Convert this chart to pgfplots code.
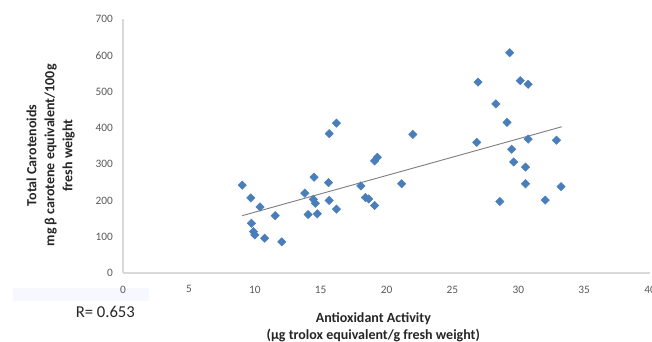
\documentclass[border=0pt]{standalone}
\usepackage{fontspec}
\setmainfont{Carlito}
\usepackage{pgfplots}
\pgfplotsset{compat=1.18}
\definecolor{mk}{HTML}{4A7EBB}
\definecolor{tk}{HTML}{595959}
\definecolor{ax}{HTML}{D9D9D9}
\begin{document}
\begin{tikzpicture}
\path[use as bounding box] (0,0) rectangle (489pt,256.5pt);
\begin{axis}[
  at={(92.25pt,51.75pt)}, anchor=south west,
  scale only axis, width=395.25pt, height=190.5pt,
  xmin=0, xmax=40, ymin=0, ymax=700,
  xtick={0,5,...,40}, ytick={0,100,...,700},
  xticklabels={0,5,10,15,20,25,30,35,40},
  axis x line=bottom, axis y line=left,
  axis line style={ax, line width=0.9pt, -},
  major tick length=0pt,
  tick label style={font=\fontsize{8.5}{10}\selectfont, text=tk},
  /pgf/number format/assume math mode=true,
  yticklabel style={xshift=-4pt},
  xticklabel style={yshift=-6pt},
  clip=false,
]
\addplot[color={rgb,255:red,128;green,128;blue,128}, line width=0.7pt] coordinates {(9.05,158) (33.3,403)};
\addplot[only marks, mark=square*, mark size=2.2pt, mark options={fill=mk, draw=mk, rotate=45}] coordinates {
(9.05,242) (9.7,207) (10.4,182) (11.55,158) (9.75,137) (9.9,114) (10.0,105) (10.75,96) (12.05,86)
(13.8,220) (14.5,264) (14.45,203) (14.6,192) (14.05,161) (14.75,163) (15.6,249) (15.65,200) (16.2,176)
(16.2,413) (15.65,384) (22.0,382) (19.3,319) (19.1,309) (18.05,240) (21.15,246) (18.4,208) (18.65,204) (19.1,186)
(26.95,526) (30.15,530) (30.75,520) (28.3,466) (29.15,415) (26.85,360) (30.75,369) (32.9,366) (29.5,341)
(29.65,306) (30.55,292) (30.55,246) (33.25,238) (28.6,197) (32.05,201) (29.35,607)
};
\end{axis}
\fill[blue, fill opacity=0.03] (10pt,30.5pt) rectangle (112pt,40.5pt);
\node[rotate=90, align=center, font=\bfseries\fontsize{10.5}{13.5}\selectfont, text=black!85] at (38pt,140pt)
  {Total Carotenoids\\mg β carotene equivalent/100g\\fresh weight};
\node[align=center, font=\bfseries\fontsize{10.5}{12.5}\selectfont, text=black!85] at (280pt,11pt)
  {Antioxidant Activity\\(µg trolox equivalent/g fresh weight)};
\node[font=\fontsize{12.5}{14}\selectfont, text=black!85] at (79pt,22.5pt) {R= 0.653};
\end{tikzpicture}
\end{document}
